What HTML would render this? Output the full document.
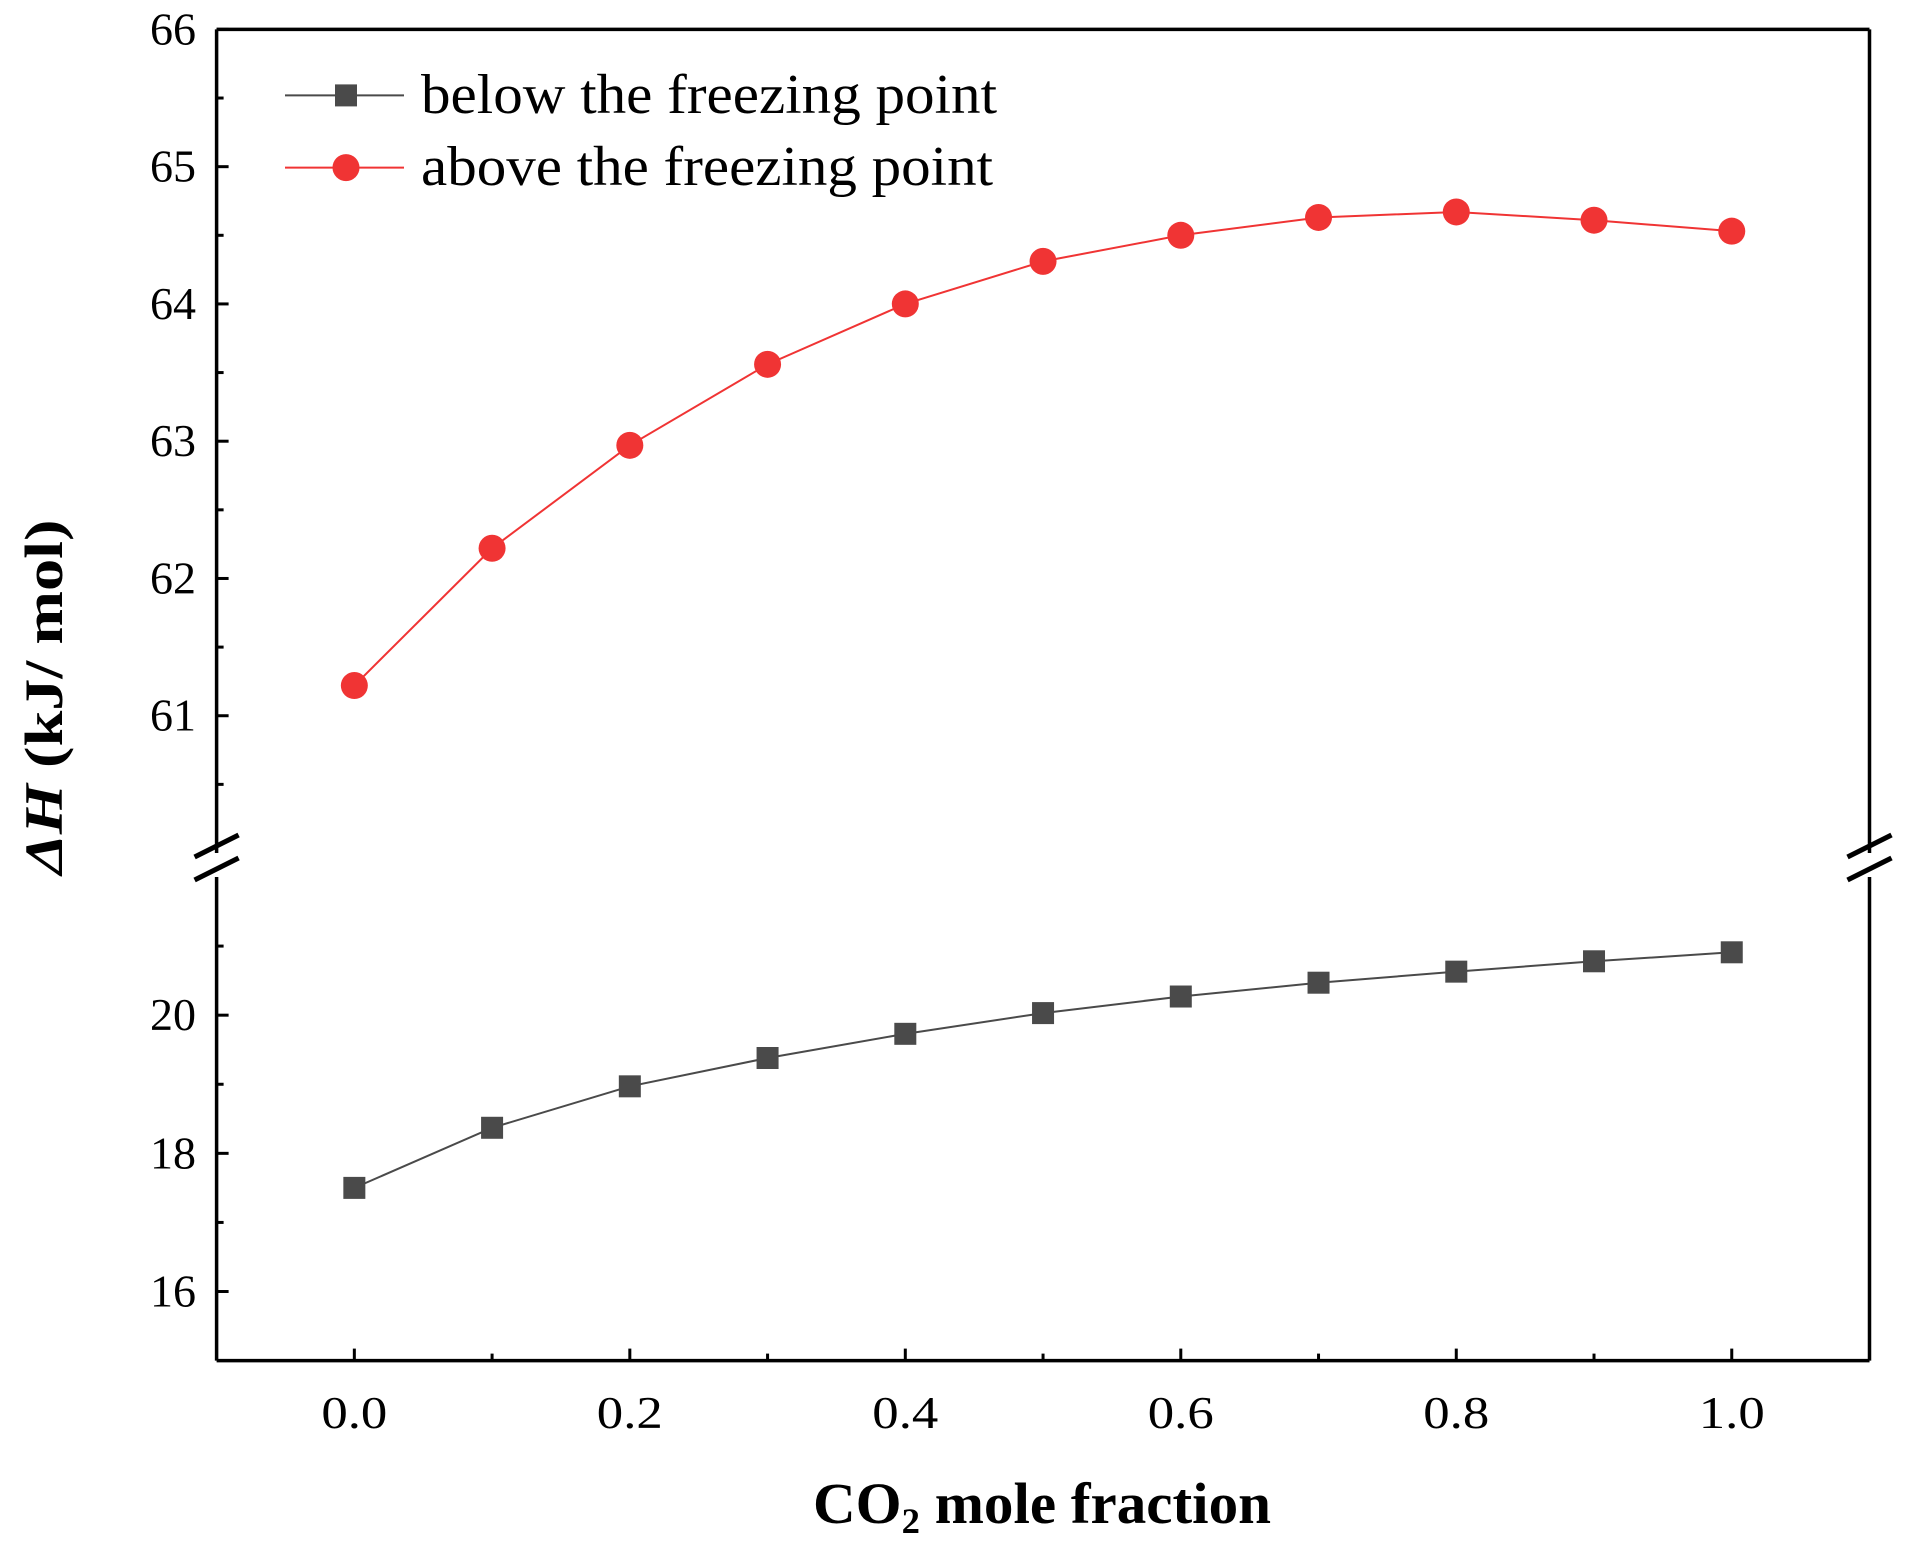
<!DOCTYPE html>
<html><head><meta charset="utf-8"><style>
html,body{margin:0;padding:0;background:#fff;}
svg{display:block;font-family:"Liberation Serif",serif;}
</style></head><body>
<svg id="chart" width="1905" height="1553" viewBox="0 0 1905 1553"></svg>
<script>
const xValues=[0,0.1,0.2,0.3,0.4,0.5,0.6,0.7,0.8,0.9,1.0];
const aboveValues=[61.22,62.22,62.97,63.56,64.0,64.31,64.5,64.63,64.67,64.61,64.53];
const belowValues=[17.5,18.37,18.97,19.38,19.73,20.03,20.27,20.47,20.63,20.78,20.91];
const xTicks=[0,0.2,0.4,0.6,0.8,1.0];
const xTickLabels=["0.0","0.2","0.4","0.6","0.8","1.0"];
const upperTicks=[61,62,63,64,65,66];
const lowerTicks=[16,18,20];

const L=216.6,R=1869.5,T=29.4,B=1360.6,UB=853,LT=877;
const NS="http://www.w3.org/2000/svg";
const svg=document.getElementById('chart');
function xs(v){return L+(v+0.1)/1.2*(R-L);}
function yu(v){return UB-(v-60)/6*(UB-T);}
function yl(v){return B-(v-15)/7*(B-LT);}
function mk(tag,attrs,parent){const e=document.createElementNS(NS,tag);for(const k in attrs)e.setAttribute(k,attrs[k]);(parent||svg).appendChild(e);return e;}

const frame=mk('g',{});


const sw=3.5;
mk('line',{x1:L,y1:T,x2:R,y2:T,stroke:'#000','stroke-width':sw},frame);
mk('line',{x1:L,y1:B,x2:R,y2:B,stroke:'#000','stroke-width':sw},frame);
mk('line',{x1:L,y1:T,x2:L,y2:UB,stroke:'#000','stroke-width':sw},frame);
mk('line',{x1:L,y1:LT,x2:L,y2:B,stroke:'#000','stroke-width':sw},frame);
mk('line',{x1:R,y1:T,x2:R,y2:UB,stroke:'#000','stroke-width':sw},frame);
mk('line',{x1:R,y1:LT,x2:R,y2:B,stroke:'#000','stroke-width':sw},frame);
[L,R].forEach(x=>{
  const b=mk('g',{});
  
  
  mk('line',{x1:x-22,y1:857,x2:x+22,y2:835,stroke:'#000','stroke-width':5},b);
  mk('line',{x1:x-22,y1:880,x2:x+22,y2:858,stroke:'#000','stroke-width':5},b);
});

const yt=mk('g',{});


function ylab(y,v){const t=mk('text',{x:196,y:y+15,'text-anchor':'end','font-size':45,textLength:46,lengthAdjust:'spacingAndGlyphs'},yt);t.textContent=v;}
upperTicks.forEach(v=>{
  const y=yu(v);
  mk('line',{x1:L,y1:y,x2:L+12,y2:y,stroke:'#000','stroke-width':3},yt);
  ylab(y,v);
  if(v<66){mk('line',{x1:L,y1:yu(v+0.5),x2:L+7,y2:yu(v+0.5),stroke:'#000','stroke-width':3},yt);}
});
mk('line',{x1:L,y1:yu(60.5),x2:L+7,y2:yu(60.5),stroke:'#000','stroke-width':3},yt);
lowerTicks.forEach(v=>{
  const y=yl(v);
  mk('line',{x1:L,y1:y,x2:L+12,y2:y,stroke:'#000','stroke-width':3},yt);
  ylab(y,v);
  mk('line',{x1:L,y1:yl(v+1),x2:L+7,y2:yl(v+1),stroke:'#000','stroke-width':3},yt);
});

const xt=mk('g',{});


xTicks.forEach((v,i)=>{
  const x=xs(v);
  mk('line',{x1:x,y1:B,x2:x,y2:B-12,stroke:'#000','stroke-width':3},xt);
  const t=mk('text',{x:x,y:1428,'text-anchor':'middle','font-size':45,textLength:66,lengthAdjust:'spacingAndGlyphs'},xt);t.textContent=xTickLabels[i];
  if(v<1)mk('line',{x1:xs(v+0.1),y1:B,x2:xs(v+0.1),y2:B-7,stroke:'#000','stroke-width':3},xt);
});

function series(vals,ys,color,shape,name){
  const g=mk('g',{});
  
  
  mk('polyline',{points:vals.map((v,i)=>xs(xValues[i])+','+ys(v)).join(' '),fill:'none',stroke:color,'stroke-width':2},g);
  vals.forEach((v,i)=>{
    const x=xs(xValues[i]),y=ys(v);
    let m;
    if(shape==='sq')m=mk('rect',{x:x-11,y:y-11,width:22,height:22,fill:color},g);
    else m=mk('circle',{cx:x,cy:y,r:13.5,fill:color},g);
    
    
  });
}
series(aboveValues,yu,'#f03434','ci','above-freezing-series');
series(belowValues,yl,'#4a4a4a','sq','below-freezing-series');

const lg=mk('g',{});


mk('line',{x1:285,y1:95.4,x2:404,y2:95.4,stroke:'#4a4a4a','stroke-width':2},lg);
mk('rect',{x:335,y:84.4,width:22,height:22,fill:'#4a4a4a'},lg);
let t1=mk('text',{x:421,y:113,'font-size':56,textLength:576,lengthAdjust:'spacingAndGlyphs'},lg);t1.textContent='below the freezing point';
mk('line',{x1:285,y1:167.6,x2:404,y2:167.6,stroke:'#f03434','stroke-width':2},lg);
mk('circle',{cx:346,cy:167.6,r:13.5,fill:'#f03434'},lg);
let t2=mk('text',{x:421,y:185,'font-size':56,textLength:572,lengthAdjust:'spacingAndGlyphs'},lg);t2.textContent='above the freezing point';
</script>
<svg style="position:absolute;left:0;top:0" width="1905" height="1553">
<text x="0" y="0" transform="translate(62,697) rotate(-90)" text-anchor="middle" font-family="Liberation Serif,serif" font-weight="bold" font-size="54" textLength="355" lengthAdjust="spacingAndGlyphs"><tspan font-style="italic">ΔH</tspan> (kJ/ mol)</text>
<text x="1042" y="1523" text-anchor="middle" font-family="Liberation Serif,serif" font-weight="bold" font-size="58" textLength="458" lengthAdjust="spacingAndGlyphs">CO<tspan font-size="36" dy="10">2</tspan><tspan dy="-10"> mole fraction</tspan></text>
</svg>
</body></html>
